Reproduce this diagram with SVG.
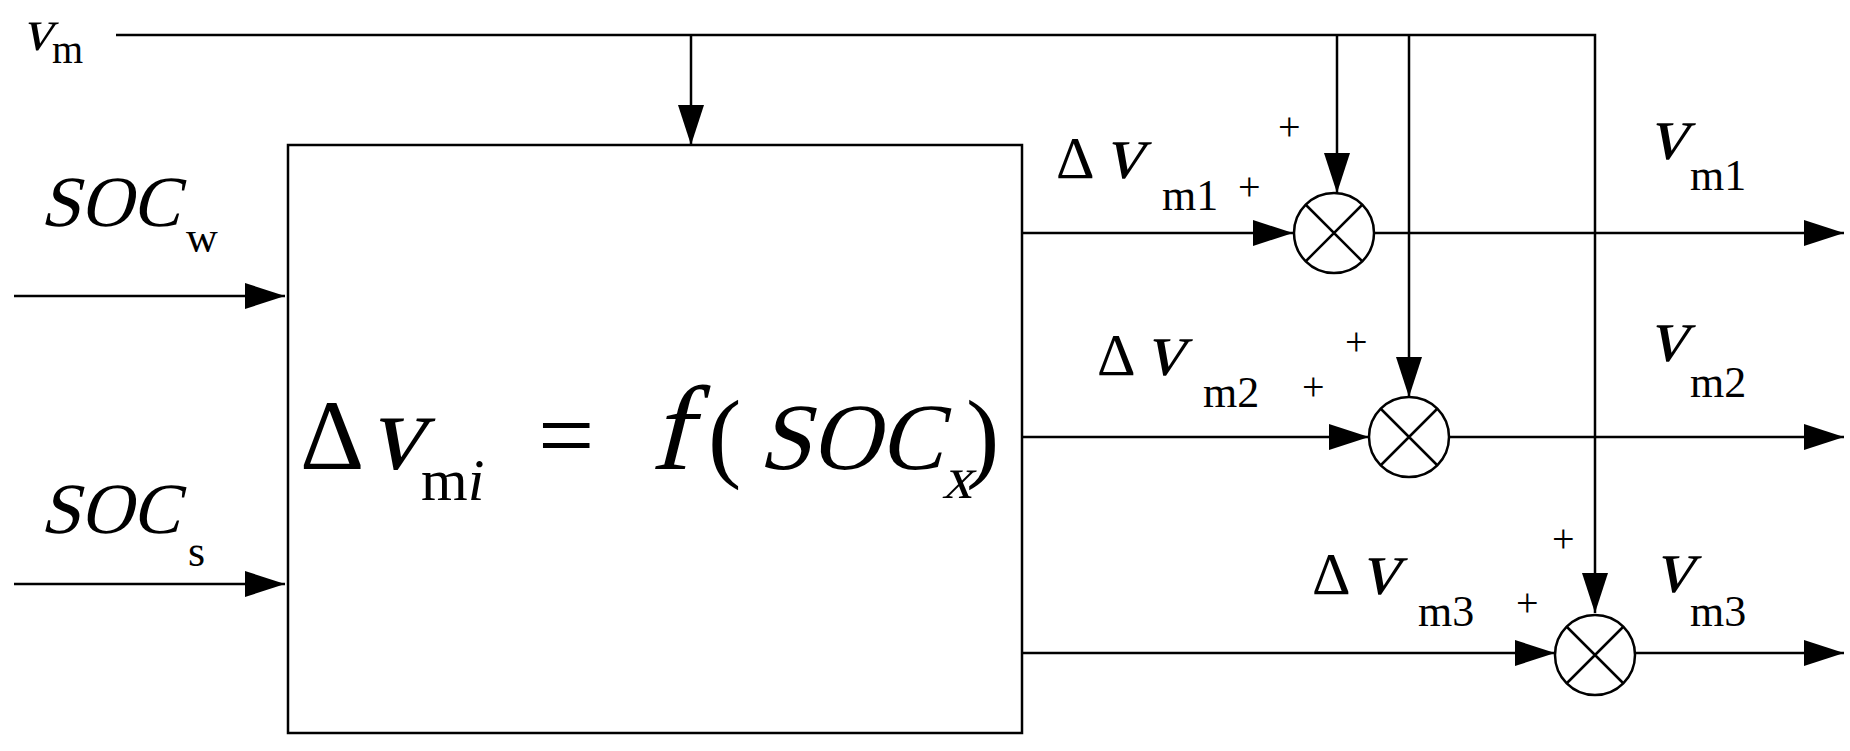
<svg xmlns="http://www.w3.org/2000/svg" width="1850" height="751" viewBox="0 0 1850 751">
<defs>
<style>
.l{stroke:#000;stroke-width:2.5;fill:none}
.c{stroke:#000;stroke-width:2.5;fill:#fff}
.i{font-family:"Liberation Serif","DejaVu Serif",serif}
.r{font-family:"Liberation Serif",serif}
</style>
<marker id="A" viewBox="0 0 40 26" refX="40" refY="13" markerWidth="40" markerHeight="26" orient="auto" markerUnits="userSpaceOnUse"><path d="M0,0L40,13L0,26z"/></marker>
</defs>
<rect width="1850" height="751" fill="#fff"/>
<g id="connectors" class="l">
<path d="M116,35H1595V613" marker-end="url(#A)"/>
<path d="M691,35V145" marker-end="url(#A)"/>
<path d="M1337,35V193" marker-end="url(#A)"/>
<path d="M1409,35V397" marker-end="url(#A)"/>
<path d="M14,296H285" marker-end="url(#A)"/>
<path d="M14,584H285" marker-end="url(#A)"/>
<path d="M1022,233H1293" marker-end="url(#A)"/>
<path d="M1022,437H1369" marker-end="url(#A)"/>
<path d="M1022,653H1555" marker-end="url(#A)"/>
<path d="M1374,233H1844" marker-end="url(#A)"/>
<path d="M1449,437H1844" marker-end="url(#A)"/>
<path d="M1635,653H1844" marker-end="url(#A)"/>
</g>
<g id="block"><rect x="288" y="145" width="734" height="588" class="c"/>
<text x="300" y="469" class="r" font-size="100">Δ</text><text transform="translate(368,469) skewX(-14)" class="i" font-size="110">v</text><text x="421" y="500" class="r" font-size="60">m<tspan font-style="italic">i</tspan></text>
<text x="538" y="469" class="r" font-size="100">=</text><text transform="translate(650,469) skewX(-14)" class="i" font-size="120">f</text><text x="708" y="469" class="r" font-size="100">(</text><text transform="translate(758,469) skewX(-14)" class="i" font-size="95">SOC</text><text transform="translate(942,498) skewX(-14)" class="i" font-size="60">x</text><text x="966" y="469" class="r" font-size="100">)</text>
</g>
<g id="sum1"><circle cx="1334" cy="233" r="40" class="c"/><path d="M1306,205L1362,261M1362,205L1306,261" class="l"/></g>
<g id="sum2"><circle cx="1409" cy="437" r="40" class="c"/><path d="M1381,409L1437,465M1437,409L1381,465" class="l"/></g>
<g id="sum3"><circle cx="1595" cy="655" r="40" class="c"/><path d="M1567,627L1623,683M1623,627L1567,683" class="l"/></g>
<g id="labels">
<text transform="translate(22,50) skewX(-14)" class="i" font-size="60">v</text><text x="52" y="63" class="r" font-size="40">m</text>
<text transform="translate(40,226) skewX(-14)" class="i" font-size="72">SOC</text><text x="186" y="252" class="r" font-size="44">w</text>
<text transform="translate(40,533) skewX(-14)" class="i" font-size="72">SOC</text><text x="188" y="566" class="r" font-size="44">s</text>
<text x="1056" y="178" class="r" font-size="60">Δ</text><text transform="translate(1104,178) skewX(-14)" class="i" font-size="78">v</text><text x="1162" y="210" class="r" font-size="44">m1</text><text x="1238" y="200" class="r" font-size="40">+</text><text x="1278" y="140" class="r" font-size="40">+</text>
<text x="1097" y="375" class="r" font-size="60">Δ</text><text transform="translate(1145,375) skewX(-14)" class="i" font-size="78">v</text><text x="1203" y="407" class="r" font-size="44">m2</text><text x="1302" y="400" class="r" font-size="40">+</text><text x="1345" y="355" class="r" font-size="40">+</text>
<text x="1312" y="594" class="r" font-size="60">Δ</text><text transform="translate(1360,594) skewX(-14)" class="i" font-size="78">v</text><text x="1418" y="626" class="r" font-size="44">m3</text><text x="1516" y="616" class="r" font-size="40">+</text><text x="1552" y="552" class="r" font-size="40">+</text>
<text transform="translate(1648,159) skewX(-14)" class="i" font-size="78">v</text><text x="1690" y="190" class="r" font-size="44">m1</text>
<text transform="translate(1648,361) skewX(-14)" class="i" font-size="78">v</text><text x="1690" y="397" class="r" font-size="44">m2</text>
<text transform="translate(1654,592) skewX(-14)" class="i" font-size="78">v</text><text x="1690" y="626" class="r" font-size="44">m3</text>
</g>
</svg>
